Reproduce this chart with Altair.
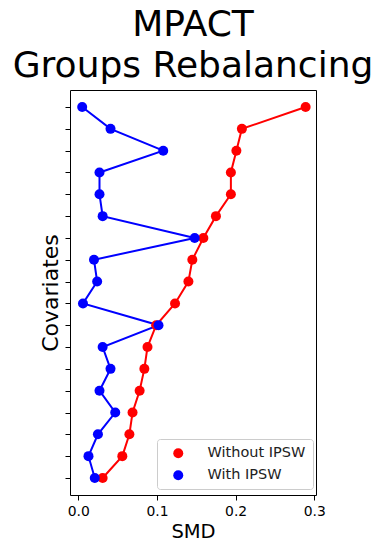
import altair as alt
import pandas as pd

covariate_index = list(range(18))
without_ipsw = [0.289, 0.208, 0.201, 0.194, 0.194, 0.175, 0.159, 0.145, 0.140,
                0.123, 0.099, 0.088, 0.084, 0.078, 0.069, 0.065, 0.056, 0.031]
with_ipsw = [0.005, 0.041, 0.108, 0.027, 0.027, 0.031, 0.148, 0.020, 0.024,
             0.006, 0.102, 0.031, 0.041, 0.027, 0.047, 0.025, 0.013, 0.021]
series_names = ["Without IPSW", "With IPSW"]
series_colors = ["#ff0000", "#0000ff"]
x_ticks = [0.0, 0.1, 0.2, 0.3]

rows = []
for i, v in zip(covariate_index, without_ipsw):
    rows.append({"idx": i, "smd": v, "series": series_names[0]})
for i, v in zip(covariate_index, with_ipsw):
    rows.append({"idx": i, "smd": v, "series": series_names[1]})
df = pd.DataFrame(rows)

FONT = "DejaVu Sans"

x_enc = alt.X("smd:Q", title="SMD",
              scale=alt.Scale(domain=[-0.0105, 0.3022], nice=False, zero=False),
              axis=alt.Axis(values=x_ticks, format=".1f", labelFontSize=13.9,
                            titleFontSize=19.5, tickSize=5, labelPadding=4,
                            titlePadding=5, grid=False, labelColor="black",
                            titleColor="black", tickColor="black",
                            domain=False, labelFont=FONT, titleFont=FONT,
                            titleFontWeight="normal"))
y_enc = alt.Y("idx:Q", title="Covariates",
              scale=alt.Scale(domain=[-0.78, 17.78], nice=False, zero=False, reverse=True),
              axis=alt.Axis(values=covariate_index, labels=False, tickSize=5,
                            grid=False, tickColor="black", domain=False,
                            titleFontSize=22, titleColor="black", titlePadding=2,
                            titleFont=FONT, titleFontWeight="normal"))

layers = []
for name, col in zip(series_names, series_colors):
    layers.append(
        alt.Chart(df).transform_filter(alt.datum.series == name)
        .mark_line(color=col, strokeWidth=2)
        .encode(x=x_enc, y=y_enc, order="idx:Q")
    )

points = alt.Chart(df).mark_circle(size=100, opacity=1).encode(
    x=x_enc, y=y_enc,
    color=alt.Color("series:N",
                    scale=alt.Scale(domain=series_names, range=series_colors),
                    legend=alt.Legend(title=None, orient="none", legendX=87, legendY=349,
                                      labelFontSize=14.5, labelFont=FONT, labelColor="#222",
                                      symbolSize=100, symbolType="circle",
                                      symbolOffset=7, fillColor="white",
                                      strokeColor="#cccccc", padding=7,
                                      cornerRadius=3, rowPadding=7,
                                      labelOffset=22, offset=0))
)

chart = alt.layer(*layers, points).properties(
    width=246, height=405,
    title=alt.Title(["MPACT", "Groups Rebalancing"], fontSize=36, font=FONT,
                    fontWeight="normal", anchor="middle", color="black",
                    lineHeight=41, offset=5),
    autosize=alt.AutoSizeParams(type="none"),
    padding={"left": 70, "top": 90, "right": 62, "bottom": 47},
).configure(background="white").configure_view(stroke="black", strokeWidth=1)

chart.save("out.html", embed_options={"renderer": "svg", "actions": False})
